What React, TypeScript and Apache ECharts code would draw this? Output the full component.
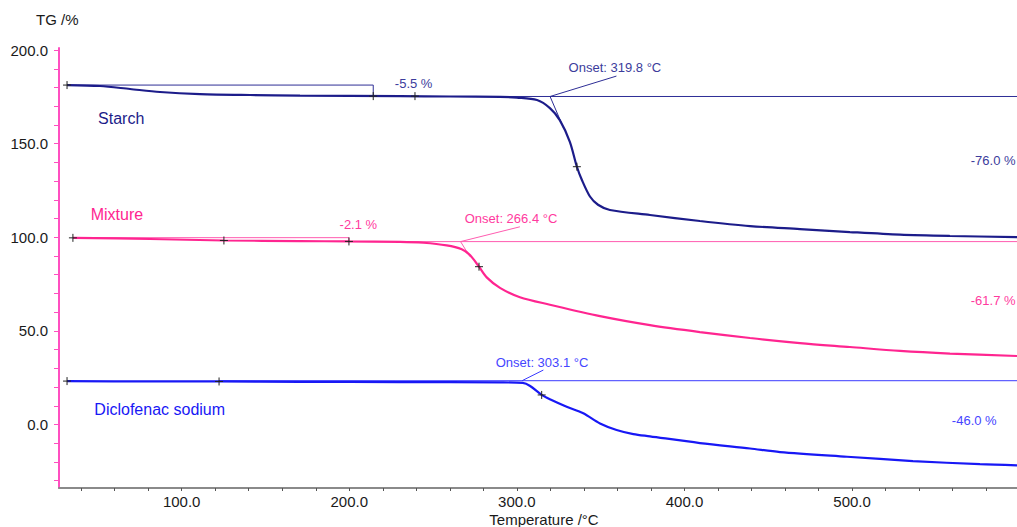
import React, { useEffect, useRef } from "react";
import * as echarts from "echarts";

// ---- Data (temperature °C, TG %) ----
const starchT = [31.6, 51.3, 69.2, 87.1, 110.9, 140.8, 170.6, 230.3, 260.1, 290.0, 300.0, 312.0, 319.7, 325.6, 331.6, 335.8, 338.8, 343.6, 348.4, 355.5, 379.4, 409.2, 439.1, 468.9, 498.7, 528.6, 558.4, 598.4];
const starchTG = [181.3, 180.8, 179.2, 177.6, 176.5, 176.0, 175.7, 175.4, 175.2, 175.0, 174.6, 173.3, 169.0, 162.6, 151.0, 137.7, 130.6, 121.8, 117.4, 114.6, 111.9, 108.7, 106.0, 104.4, 102.8, 101.4, 100.7, 100.1];

const mixT = [35.1, 81.1, 125.2, 170.6, 199.8, 230.3, 244.2, 258.1, 267.1, 272.0, 277.4, 282.0, 289.9, 301.8, 319.7, 349.6, 379.4, 409.2, 439.1, 468.9, 498.7, 528.6, 558.4, 598.4];
const mixTG = [99.7, 99.1, 98.3, 98.0, 97.8, 97.6, 97.1, 95.7, 93.6, 90.5, 84.3, 78.6, 73.0, 68.0, 64.0, 57.9, 53.1, 49.4, 46.2, 43.5, 41.4, 39.3, 37.9, 36.6];

const dicT = [31.6, 81.1, 122.3, 170.6, 230.3, 290.0, 303.5, 307.9, 314.8, 319.7, 329.7, 339.6, 349.6, 359.5, 369.5, 379.4, 409.2, 439.1, 457.0, 497.0, 536.3, 576.3, 598.4];
const dicTG = [23.2, 23.0, 23.0, 22.8, 22.7, 22.5, 22.2, 20.6, 15.8, 13.5, 9.5, 6.0, 0.6, -2.9, -5.1, -6.3, -9.9, -12.8, -14.7, -17.2, -19.5, -21.2, -21.8];

// evaluation markers (+)
const markerT = [31.6, 214.3, 239.2, 335.8, 35.1, 125.2, 199.8, 277.4, 31.6, 122.3, 314.8];
const markerTG = [181.3, 175.4, 175.4, 137.7, 99.7, 98.3, 97.8, 84.3, 23.2, 23.0, 15.8];

// axis ticks / labels
const xLabelValues = [100, 200, 300, 400, 500];
const xTickValues = [40, 60, 80, 100, 120, 140, 160, 180, 200, 220, 240, 260, 280, 300, 320, 340, 360, 380, 400, 420, 440, 460, 480, 500, 520, 540, 560, 580];
const yLabelValues = [0, 50, 100, 150, 200];
const yTickValues = [-30, -20, -10, 0, 10, 20, 30, 40, 50, 60, 70, 80, 90, 100, 110, 120, 130, 140, 150, 160, 170, 180, 190, 200];

// evaluation lines (baselines, step brackets, tangents, leaders)
const starchLines = [
  [[214.3, 175.2], [598.4, 175.2]],
  [[31.6, 181.3], [214.3, 181.3], [214.3, 175.2]],
  [[319.8, 175.2], [327.9, 158.3]],
  [[319.8, 175.2], [359.4, 186.1]],
];
const mixLines = [
  [[199.8, 97.7], [598.4, 97.7]],
  [[35.1, 99.8], [199.8, 99.8], [199.8, 97.7]],
  [[266.4, 97.7], [272.0, 89.6]],
  [[266.4, 97.7], [301.8, 105.6]],
];
const dicLines = [
  [[122.3, 23.4], [598.4, 23.4]],
  [[303.1, 23.4], [315.8, 29.1]],
];

// annotation texts: [T, TG, text]
const starchTexts: [number, number, string][] = [
  [238.4, 182.2, "-5.5 %"],
  [358.5, 190.9, "Onset: 319.8 °C"],
  [584.2, 140.9, "-76.0 %"],
];
const mixTexts: [number, number, string][] = [
  [205.4, 106.9, "-2.1 %"],
  [296.5, 110.3, "Onset: 266.4 °C"],
  [584.2, 66.5, "-61.7 %"],
];
const dicTexts: [number, number, string][] = [
  [315.0, 33.0, "Onset: 303.1 °C"],
  [572.9, 2.4, "-46.0 %"],
];
// series names: [T, TG, name]
const seriesNames: [number, number, string][] = [
  [50.1, 163.5, "Starch"],
  [45.7, 112.4, "Mixture"],
  [47.9, 8.1, "Diclofenac sodium"],
];

const FONT = '"Liberation Sans", Arial, sans-serif';
const C_STARCH = "#1c1c8a";
const C_MIX = "#ff2590";
const C_DIC = "#1818f5";

function zip(a: number[], b: number[]) {
  return a.map((v, i) => [v, b[i]]);
}

function linesSeries(lines: number[][][], color: string) {
  return {
    type: "custom",
    silent: true,
    z: 3,
    data: lines.map((l) => l[0]),
    renderItem: (params: any, api: any) => {
      const pts = lines[params.dataIndex].map((p) => api.coord(p));
      return {
        type: "polyline",
        shape: { points: pts },
        style: { stroke: color, lineWidth: 1, fill: "none" },
      };
    },
  };
}

function textSeries(texts: [number, number, string][], color: string, size: number, align: string) {
  return {
    type: "custom",
    silent: true,
    z: 5,
    data: texts.map((t) => [t[0], t[1]]),
    renderItem: (params: any, api: any) => {
      const t = texts[params.dataIndex];
      const p = api.coord([t[0], t[1]]);
      return {
        type: "text",
        x: p[0],
        y: p[1],
        style: {
          text: t[2],
          fill: color,
          font: `${size}px ${FONT}`,
          align,
          verticalAlign: "middle",
        },
      };
    },
  };
}

export default function App() {
  const ref = useRef<HTMLDivElement>(null);
  useEffect(() => {
    if (!ref.current) return;
    const chart = echarts.init(ref.current, null, { renderer: "svg" });
    const option: any = {
      animation: false,
      backgroundColor: "#ffffff",
      textStyle: { fontFamily: FONT },
      grid: { left: 59, right: 0, top: 48, bottom: 39, outerBoundsMode: "none", containLabel: false },
      xAxis: {
        type: "value",
        min: 26.8,
        max: 598.4,
        axisLine: { show: true, onZero: false, lineStyle: { color: "#8a8a8a", width: 2 } },
        axisTick: { show: true, length: 3, customValues: xTickValues, lineStyle: { color: "#555", width: 1 } },
        axisLabel: {
          customValues: xLabelValues,
          formatter: (v: number) => v.toFixed(1),
          color: "#1a1a1a",
          fontSize: 15,
          margin: 6,
          fontFamily: FONT,
        },
        splitLine: { show: false },
      },
      yAxis: {
        type: "value",
        min: -33.9,
        max: 201.1,
        axisLine: { show: true, onZero: false, lineStyle: { color: "#ff4fc0", width: 2 } },
        axisTick: { show: true, length: 5, customValues: yTickValues, lineStyle: { color: "#ff4fc0", width: 1 } },
        axisLabel: {
          customValues: yLabelValues,
          formatter: (v: number) => v.toFixed(1),
          color: "#1a1a1a",
          fontSize: 15,
          margin: 11,
          fontFamily: FONT,
        },
        splitLine: { show: false },
      },
      graphic: [
        { type: "text", left: 36, top: 12, style: { text: "TG /%", fill: "#1a1a1a", font: `15px ${FONT}` } },
        { type: "text", x: 544, y: 519, style: { text: "Temperature /°C", fill: "#1a1a1a", font: `15px ${FONT}`, align: "center", verticalAlign: "middle" } },
      ],
      series: [
        linesSeries(starchLines, "#2e2e96"),
        linesSeries(mixLines, "#ff5cb0"),
        linesSeries(dicLines, "#3a3aff"),
        {
          type: "line",
          data: zip(starchT, starchTG),
          showSymbol: false,
          smooth: 0.3,
          lineStyle: { color: C_STARCH, width: 2.2 },
          z: 4,
        },
        {
          type: "line",
          data: zip(mixT, mixTG),
          showSymbol: false,
          smooth: 0.3,
          lineStyle: { color: C_MIX, width: 2.2 },
          z: 4,
        },
        {
          type: "line",
          data: zip(dicT, dicTG),
          showSymbol: false,
          smooth: 0.3,
          lineStyle: { color: C_DIC, width: 2.2 },
          z: 4,
        },
        {
          type: "custom",
          silent: true,
          z: 6,
          data: zip(markerT, markerTG),
          renderItem: (params: any, api: any) => {
            const p = api.coord([api.value(0), api.value(1)]);
            return {
              type: "group",
              children: [
                { type: "line", shape: { x1: p[0] - 4, y1: p[1], x2: p[0] + 4, y2: p[1] }, style: { stroke: "#222", lineWidth: 1 } },
                { type: "line", shape: { x1: p[0], y1: p[1] - 4, x2: p[0], y2: p[1] + 4 }, style: { stroke: "#222", lineWidth: 1 } },
              ],
            };
          },
        },
        textSeries(starchTexts, "#3c3c9c", 13, "center"),
        textSeries(mixTexts, "#ff3a9e", 13, "center"),
        textSeries(dicTexts, "#4545ff", 13, "center"),
        textSeries([seriesNames[0]], C_STARCH, 16, "left"),
        textSeries([seriesNames[1]], C_MIX, 16, "left"),
        textSeries([seriesNames[2]], C_DIC, 16, "left"),
      ],
    };
    chart.setOption(option);
    return () => chart.dispose();
  }, []);
  return <div ref={ref} style={{ position: "absolute", left: 0, top: 0, width: 1017, height: 527 }} />;
}
